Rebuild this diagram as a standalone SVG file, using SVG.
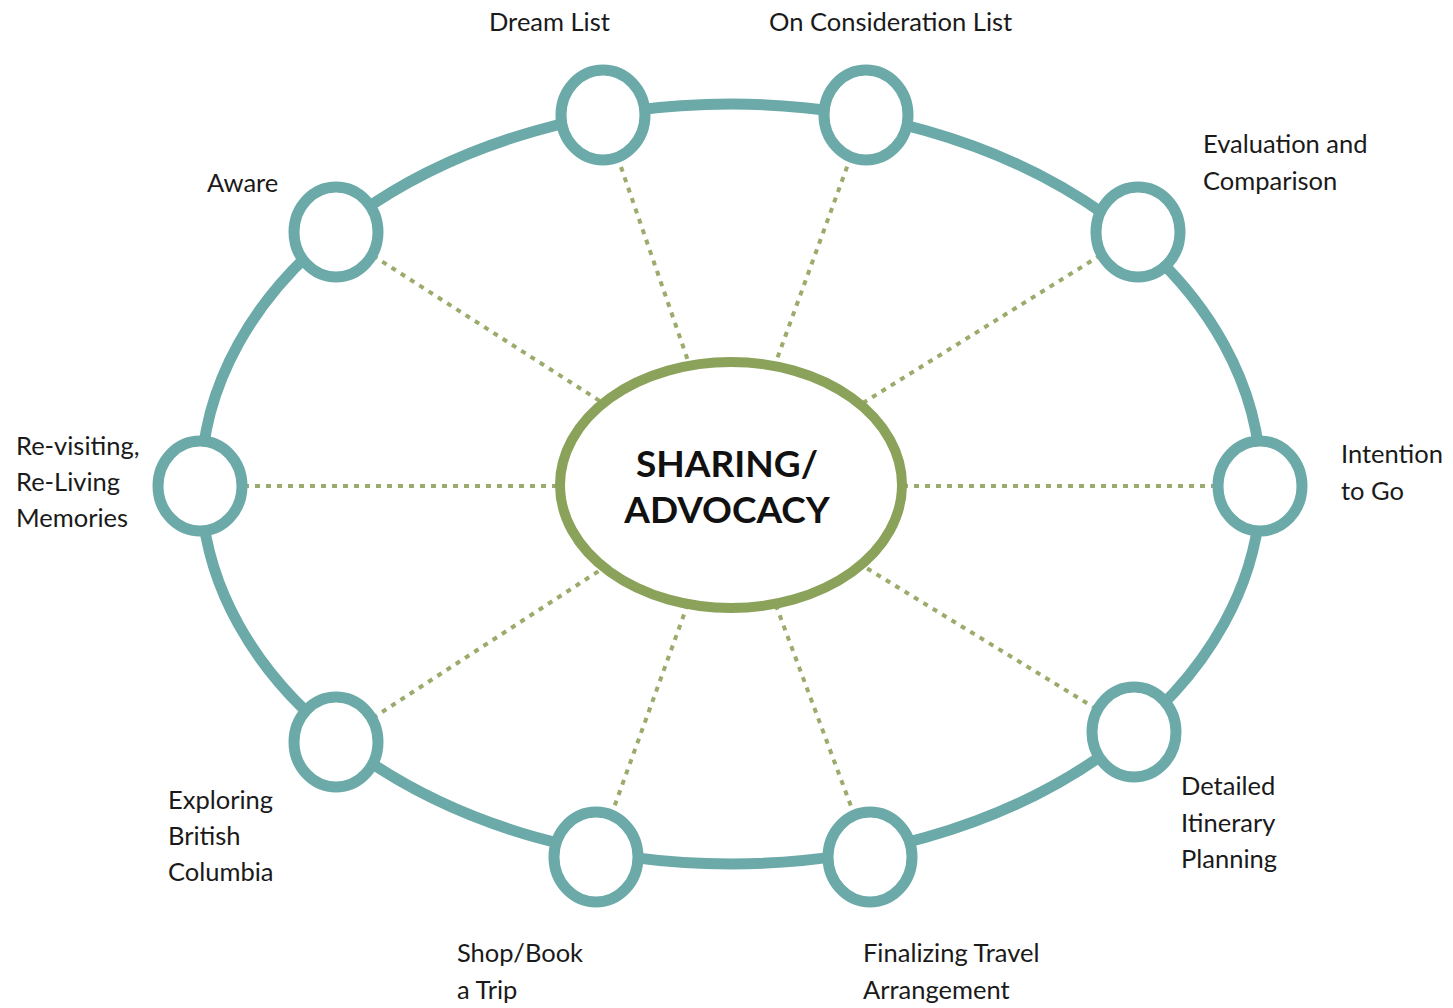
<svg xmlns="http://www.w3.org/2000/svg" width="1453" height="1008" viewBox="0 0 1453 1008">
<style>
.ring{fill:none;stroke:#6baaa8;stroke-width:11}
.node{fill:#ffffff;stroke:#6baaa8;stroke-width:11}
.hub{fill:#ffffff;stroke:#8ba25b;stroke-width:10}
.spoke{stroke:#9aab6b;stroke-width:4;stroke-dasharray:5 6;fill:none}
.lbl{font-family:Lato,"Liberation Sans",sans-serif;font-size:25.5px;fill:#1a1a1a}
.hubt{font-family:Lato,"Liberation Sans",sans-serif;font-size:37px;font-weight:bold;fill:#111111;text-anchor:middle}
</style>
<rect width="1453" height="1008" fill="#ffffff"/>
<g id="connectors">
<ellipse class="ring" cx="731" cy="484" rx="530" ry="380"/>
<line class="spoke" x1="603" y1="115" x2="731" y2="485"/>
<line class="spoke" x1="866" y1="115" x2="731" y2="485"/>
<line class="spoke" x1="336" y1="232" x2="731" y2="485"/>
<line class="spoke" x1="1138" y1="232" x2="731" y2="485"/>
<line class="spoke" x1="200" y1="486" x2="731" y2="486"/>
<line class="spoke" x1="1260" y1="486" x2="731" y2="486"/>
<line class="spoke" x1="336" y1="742" x2="731" y2="485"/>
<line class="spoke" x1="1134" y1="732" x2="731" y2="485"/>
<line class="spoke" x1="596" y1="857" x2="731" y2="485"/>
<line class="spoke" x1="870" y1="857" x2="731" y2="485"/>
</g>
<g id="hub">
<ellipse class="hub" cx="731" cy="485" rx="171" ry="123"/>
<text class="hubt" x="727" y="477">SHARING/</text>
<text class="hubt" x="727" y="523">ADVOCACY</text>
</g>
<g id="dream-list">
<ellipse class="node" cx="603" cy="115" rx="42" ry="45"/>
<text class="lbl" x="489" y="31">Dream List</text>
</g>
<g id="on-consideration">
<ellipse class="node" cx="866" cy="115" rx="42" ry="45"/>
<text class="lbl" x="769" y="31">On Consideration List</text>
</g>
<g id="aware">
<ellipse class="node" cx="336" cy="232" rx="42" ry="45"/>
<text class="lbl" x="207" y="192">Aware</text>
</g>
<g id="evaluation">
<ellipse class="node" cx="1138" cy="232" rx="42" ry="45"/>
<text class="lbl" x="1203" y="153">Evaluation and</text>
<text class="lbl" x="1203" y="190">Comparison</text>
</g>
<g id="revisiting">
<ellipse class="node" cx="200" cy="486" rx="42" ry="45"/>
<text class="lbl" x="16" y="455">Re-visiting,</text>
<text class="lbl" x="16" y="491">Re-Living</text>
<text class="lbl" x="16" y="527">Memories</text>
</g>
<g id="intention">
<ellipse class="node" cx="1260" cy="486" rx="42" ry="45"/>
<text class="lbl" x="1341" y="463">Intention</text>
<text class="lbl" x="1341" y="500">to Go</text>
</g>
<g id="exploring">
<ellipse class="node" cx="336" cy="742" rx="42" ry="45"/>
<text class="lbl" x="168" y="809">Exploring</text>
<text class="lbl" x="168" y="845">British</text>
<text class="lbl" x="168" y="881">Columbia</text>
</g>
<g id="detailed">
<ellipse class="node" cx="1134" cy="732" rx="42" ry="45"/>
<text class="lbl" x="1181" y="795">Detailed</text>
<text class="lbl" x="1181" y="832">Itinerary</text>
<text class="lbl" x="1181" y="868">Planning</text>
</g>
<g id="shop-book">
<ellipse class="node" cx="596" cy="857" rx="42" ry="45"/>
<text class="lbl" x="457" y="962">Shop/Book</text>
<text class="lbl" x="457" y="999">a Trip</text>
</g>
<g id="finalizing">
<ellipse class="node" cx="870" cy="857" rx="42" ry="45"/>
<text class="lbl" x="863" y="962">Finalizing Travel</text>
<text class="lbl" x="863" y="999">Arrangement</text>
</g>
</svg>
